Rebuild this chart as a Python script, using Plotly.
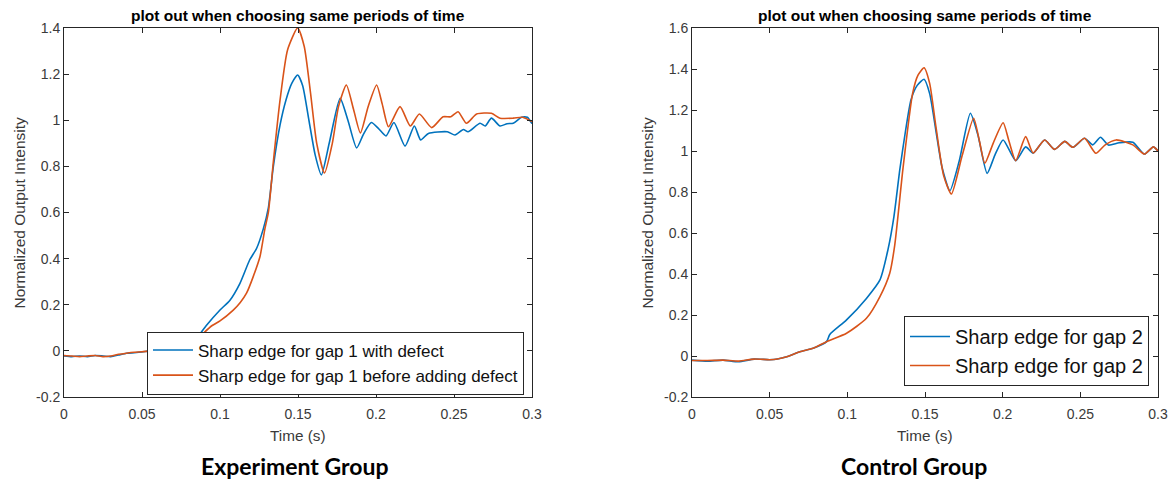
import plotly.graph_objects as go

# ---------------- data ----------------
# Left panel: Experiment Group
exp_defect_t = [0, 0.005, 0.01, 0.015, 0.02, 0.025, 0.03, 0.035, 0.04, 0.045, 0.05, 0.055, 0.06,
                0.065, 0.07, 0.075, 0.08, 0.085, 0.0915, 0.1, 0.1064, 0.1128, 0.119, 0.1235, 0.1278,
                0.131, 0.1342, 0.1385, 0.1423, 0.146, 0.1498, 0.153, 0.157, 0.161, 0.165, 0.17,
                0.177, 0.182, 0.1876, 0.192, 0.197, 0.2015, 0.2064, 0.2115, 0.2186, 0.2246, 0.2286,
                0.2336, 0.2457, 0.2506, 0.256, 0.259, 0.2667, 0.27, 0.274, 0.2795, 0.284, 0.288,
                0.2933, 0.297, 0.3]
exp_defect_v = [-0.022, -0.025, -0.022, -0.025, -0.02, -0.022, -0.025, -0.018, -0.01, -0.008, -0.005,
                0.0, 0.0, 0.002, 0.005, 0.01, 0.025, 0.055, 0.112, 0.177, 0.22, 0.293, 0.394, 0.445,
                0.53, 0.62, 0.8, 0.98, 1.088, 1.16, 1.196, 1.15, 1.0, 0.85, 0.763, 0.9,
                1.095, 1.0, 0.88, 0.94, 0.99, 0.965, 0.932, 0.99, 0.888, 0.975, 0.915,
                0.943, 0.95, 0.936, 0.96, 0.95, 0.987, 0.975, 1.009, 0.975, 0.985, 0.987,
                1.013, 1.013, 0.985]

exp_before_t = [0, 0.005, 0.01, 0.015, 0.02, 0.025, 0.03, 0.035, 0.04, 0.045, 0.05, 0.055, 0.06,
                0.065, 0.07, 0.075, 0.08, 0.085, 0.09, 0.095, 0.1, 0.1085, 0.113, 0.117, 0.1213,
                0.1256, 0.1288, 0.131, 0.1342, 0.1385, 0.1433, 0.1498, 0.154, 0.158, 0.162, 0.167,
                0.172, 0.176, 0.181, 0.1855, 0.19, 0.195, 0.2004, 0.204, 0.208, 0.2154, 0.222,
                0.2278, 0.2357, 0.243, 0.248, 0.2526, 0.258, 0.2645, 0.274, 0.2795, 0.288, 0.294, 0.3]
exp_before_v = [-0.02, -0.022, -0.025, -0.022, -0.02, -0.025, -0.022, -0.015, -0.01, -0.006, -0.004,
                0.0, 0.002, 0.003, 0.006, 0.01, 0.022, 0.045, 0.08, 0.11, 0.13, 0.177, 0.21, 0.25, 0.322,
                0.408, 0.53, 0.6, 0.82, 1.088, 1.305, 1.40, 1.32, 1.12, 0.9, 0.771,
                0.9, 1.06, 1.153, 1.05, 0.945, 1.06, 1.153, 1.07, 0.972, 1.059, 0.975,
                1.027, 0.968, 1.015, 1.015, 1.037, 0.987, 1.027, 1.03, 1.009, 1.009, 1.013, 0.994]

# Right panel: Control Group
ctrl_a_t = [0, 0.01, 0.02, 0.03, 0.04, 0.05, 0.055, 0.061, 0.0695, 0.078, 0.0866, 0.0887, 0.0995,
            0.1123, 0.121, 0.1262, 0.13, 0.1338, 0.1375, 0.141, 0.145, 0.1494, 0.153, 0.157, 0.161,
            0.166, 0.172, 0.1792, 0.184, 0.19, 0.195, 0.2003, 0.2084, 0.2148, 0.2196, 0.227,
            0.2334, 0.24, 0.2452, 0.2527, 0.258, 0.263, 0.268, 0.275, 0.2838, 0.2913, 0.297, 0.3]
ctrl_a_v = [-0.02, -0.025, -0.02, -0.028, -0.015, -0.018, -0.015, -0.004, 0.021, 0.038, 0.07, 0.105,
            0.176, 0.281, 0.371, 0.52, 0.68, 0.91, 1.1, 1.25, 1.32, 1.35, 1.28, 1.1, 0.92,
            0.806, 0.95, 1.184, 1.08, 0.891, 0.98, 1.054, 0.953, 1.02, 0.99, 1.054,
            1.008, 1.047, 1.018, 1.062, 1.03, 1.067, 1.029, 1.04, 1.043, 0.985, 1.02, 1.0]

ctrl_b_t = [0, 0.01, 0.02, 0.03, 0.04, 0.05, 0.055, 0.061, 0.0695, 0.078, 0.0866, 0.0995, 0.1123,
            0.121, 0.1273, 0.1305, 0.1359, 0.142, 0.1455, 0.1494, 0.153, 0.157, 0.162, 0.167, 0.174,
            0.1813, 0.185, 0.1885, 0.194, 0.2003, 0.204, 0.2084, 0.2148, 0.2196, 0.227, 0.2334,
            0.24, 0.2452, 0.2527, 0.26, 0.266, 0.273, 0.2838, 0.2913, 0.297, 0.3]
ctrl_b_v = [-0.022, -0.022, -0.02, -0.025, -0.015, -0.018, -0.015, -0.004, 0.021, 0.038, 0.07, 0.111,
            0.184, 0.29, 0.404, 0.54, 0.92, 1.28, 1.37, 1.406, 1.33, 1.12, 0.88, 0.79, 0.98,
            1.16, 1.05, 0.94, 1.04, 1.138, 1.05, 0.953, 1.07, 0.99, 1.054, 1.008,
            1.047, 1.018, 1.062, 0.989, 1.03, 1.054, 1.03, 0.985, 1.02, 1.0]

x_tickvals = [0, 0.05, 0.1, 0.15, 0.2, 0.25, 0.3]
x_ticktext = ["0", "0.05", "0.1", "0.15", "0.2", "0.25", "0.3"]
yl_tickvals = [-0.2, 0, 0.2, 0.4, 0.6, 0.8, 1, 1.2, 1.4]
yl_ticktext = ["-0.2", "0", "0.2", "0.4", "0.6", "0.8", "1", "1.2", "1.4"]
yr_tickvals = [-0.2, 0, 0.2, 0.4, 0.6, 0.8, 1, 1.2, 1.4, 1.6]
yr_ticktext = ["-0.2", "0", "0.2", "0.4", "0.6", "0.8", "1", "1.2", "1.4", "1.6"]

names_left = ["Sharp edge for gap 1 with defect", "Sharp edge for gap 1 before adding defect"]
names_right = ["Sharp edge for gap 2", "Sharp edge for gap 2"]
panel_title = "plot out when choosing same periods of time"
captions = ["Experiment Group", "Control Group"]

# ---------------- figure ----------------
W, H = 1172, 481
BLUE, ORANGE = "#0072BD", "#D95319"
AX = "#262626"
TXT = "#3a3a3a"
FONT = "Liberation Sans, Arial"

def px_x(p):
    return p / W

def px_y(p):
    return 1 - p / H

fig = go.Figure()
line_kw = dict(shape="spline", smoothing=0.6, width=1.6)
fig.add_trace(go.Scatter(x=exp_defect_t, y=exp_defect_v, name=names_left[0], mode="lines",
                         line=dict(color=BLUE, **line_kw), xaxis="x", yaxis="y", legend="legend"))
fig.add_trace(go.Scatter(x=exp_before_t, y=exp_before_v, name=names_left[1], mode="lines",
                         line=dict(color=ORANGE, **line_kw), xaxis="x", yaxis="y", legend="legend"))
fig.add_trace(go.Scatter(x=ctrl_a_t, y=ctrl_a_v, name=names_right[0], mode="lines",
                         line=dict(color=BLUE, **line_kw), xaxis="x2", yaxis="y2", legend="legend2"))
fig.add_trace(go.Scatter(x=ctrl_b_t, y=ctrl_b_v, name=names_right[1], mode="lines",
                         line=dict(color=ORANGE, **line_kw), xaxis="x2", yaxis="y2", legend="legend2"))

axis_common = dict(showline=True, linecolor=AX, linewidth=1, mirror="ticks", ticks="inside",
                   ticklen=5, tickcolor=AX, showgrid=False, zeroline=False, automargin=False,
                   tickfont=dict(family=FONT, size=14, color=TXT))

ydom = [px_y(397), px_y(28)]
fig.update_layout(
    width=W, height=H, autosize=False, margin=dict(l=0, r=0, t=0, b=0, pad=0),
    paper_bgcolor="white", plot_bgcolor="white",
    xaxis=dict(domain=[px_x(64), px_x(532)], range=[0, 0.3], tickvals=x_tickvals,
               ticktext=x_ticktext, anchor="y", ticklabelstandoff=4, **axis_common),
    yaxis=dict(domain=ydom, range=[-0.2, 1.4], tickvals=yl_tickvals, ticktext=yl_ticktext,
               anchor="x", **axis_common),
    xaxis2=dict(domain=[px_x(692), px_x(1158)], range=[0, 0.3], tickvals=x_tickvals,
                ticktext=x_ticktext, anchor="y2", ticklabelstandoff=4, **axis_common),
    yaxis2=dict(domain=ydom, range=[-0.2, 1.6], tickvals=yr_tickvals, ticktext=yr_ticktext,
                anchor="x2", **axis_common),
    legend=dict(x=px_x(147), y=px_y(363), xanchor="left", yanchor="middle",
                bgcolor="white", bordercolor=AX, borderwidth=1,
                font=dict(family=FONT, size=17, color="#111"),
                tracegroupgap=0, itemwidth=40),
    legend2=dict(x=px_x(904), y=px_y(351), xanchor="left", yanchor="middle",
                 bgcolor="white", bordercolor=AX, borderwidth=1,
                 font=dict(family=FONT, size=20, color="#111"),
                 tracegroupgap=0, itemwidth=40),
    showlegend=True,
)

ann = []
for cx in (298, 925):
    ann.append(dict(text="<b>" + panel_title + "</b>", x=px_x(cx), y=px_y(15), xref="paper",
                    yref="paper", showarrow=False, xanchor="center", yanchor="middle",
                    font=dict(family=FONT, size=15.5, color="black")))
    ann.append(dict(text="Time (s)", x=px_x(cx), y=px_y(435), xref="paper", yref="paper",
                    showarrow=False, xanchor="center", yanchor="middle",
                    font=dict(family=FONT, size=15.3, color=TXT)))
for cx in (19, 647):
    ann.append(dict(text="Normalized Output Intensity", x=px_x(cx), y=px_y(212.5), xref="paper",
                    yref="paper", showarrow=False, xanchor="center", yanchor="middle",
                    textangle=-90,
                    font=dict(family=FONT, size=15.5, color=TXT)))
for cx, txt in zip((295, 914), captions):
    ann.append(dict(text="<b>" + txt + "</b>", x=px_x(cx), y=px_y(466), xref="paper",
                    yref="paper", showarrow=False, xanchor="center", yanchor="middle",
                    font=dict(family="Lato, Open Sans", size=23, color="black")))
fig.update_layout(annotations=ann)

fig.write_html("out.html", config={"displayModeBar": False},
               post_script="document.body.style.margin='0';document.body.style.overflow='hidden';")
